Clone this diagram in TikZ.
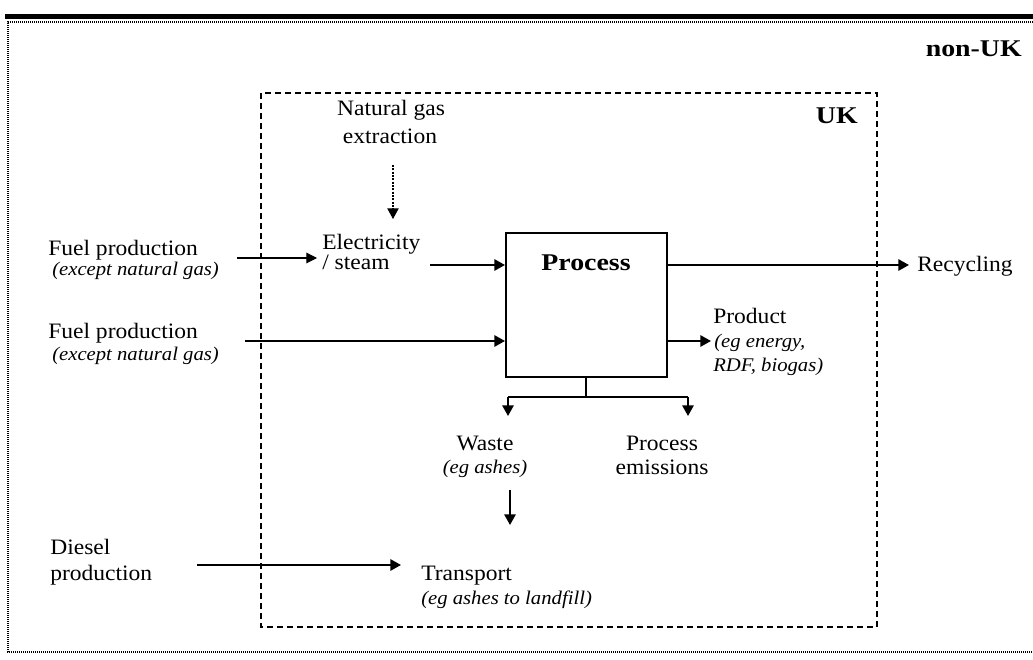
\documentclass[tikz,border=0pt]{standalone}
\usepackage{fontspec}
\setmainfont{Liberation Serif}[FakeStretch=1.07]
\newfontfamily\bldfam{Liberation Serif}[FakeStretch=1.16]
\usetikzlibrary{arrows.meta,calc}
\begin{document}
\begin{tikzpicture}[x=0.75pt,y=-0.75pt,
  txt/.style={font=\fontsize{16.5}{19}\selectfont, inner sep=0pt},
  itx/.style={font=\fontsize{14.5}{17}\selectfont\itshape, inner sep=0pt},
  bld/.style={font=\bldfam\fontsize{18}{20}\selectfont\bfseries, inner sep=0pt},
  ln/.style={line width=1.5pt},
  arr/.style={line width=1.5pt,-{Triangle[length=8pt,width=8.5pt]}},
  tarr/.style={line width=0.8pt,-{Triangle[length=8pt,width=8pt]}},
  darr/.style={line width=0.8pt,dash pattern=on 1.5pt off 1pt,-{Triangle[length=8pt,width=8.5pt]}},
  ukbox/.style={line width=1.5pt,dash pattern=on 4.5pt off 3pt},
  outbox/.style={line width=1.2pt,dash pattern=on 0.75pt off 0.75pt},
  procbox/.style={draw,line width=1.5pt,minimum width=120.75pt,minimum height=108pt,inner sep=0pt}
]
\useasboundingbox (0,0) rectangle (1033,660);
\fill (5,14) rectangle (1033,19);
\draw[outbox] (1033,22) -- (8,22) -- (8,652) -- (1033,652);
\draw[ukbox] (261,93) rectangle (877,627);

\node[bld,anchor=base east] (nonuk) at (1022,57) {non-UK};
\node[bld,anchor=base east] (uk) at (858,124) {UK};

\node[txt,anchor=base] (ng1) at (391,116) {Natural gas};
\node[txt,anchor=base] (ng2) at (390,144) {extraction};

\node[txt,anchor=base west] (el1) at (322,249) {Electricity};
\node[txt,anchor=base west] (el2) at (322,269) {/ steam};

\node[procbox] (proc) at (586.5,305) {};
\node[bld,anchor=base] (ptitle) at (586,270) {Process};

\node[txt,anchor=base west] (f1a) at (48,255) {Fuel production};
\node[itx,anchor=base west] (f1b) at (52,275) {(except natural gas)};
\node[txt,anchor=base west] (f2a) at (48,338) {Fuel production};
\node[itx,anchor=base west] (f2b) at (52,360) {(except natural gas)};

\node[txt,anchor=base west] (rec) at (917,271) {Recycling};
\node[txt,anchor=base west] (pr1) at (713,323) {Product};
\node[itx,anchor=base west] (pr2) at (714,347) {(eg energy,};
\node[itx,anchor=base west] (pr3) at (713,371) {RDF, biogas)};

\node[txt,anchor=base] (w1) at (485,450) {Waste};
\node[itx,anchor=base] (w2) at (485,473) {(eg ashes)};
\node[txt,anchor=base] (pe1) at (662,450) {Process};
\node[txt,anchor=base] (pe2) at (662,474) {emissions};

\node[txt,anchor=base west] (tr1) at (421,580) {Transport};
\node[itx,anchor=base west] (tr2) at (421,604) {(eg ashes to landfill)};
\node[txt,anchor=base west] (d1) at (50,554) {Diesel};
\node[txt,anchor=base west] (d2) at (50,580) {production};

% connectors
\coordinate (ngS) at (393,165);
\coordinate (ngE) at (393,219);
\draw[darr] (ngS) -- (ngE);

\coordinate (f1S) at (237,258);
\coordinate (f1E) at (317,258);
\draw[tarr] (f1S) -- (f1E);

\coordinate (elS) at (430,265);
\draw[arr] (elS) -- (proc.west |- elS);

\coordinate (f2S) at (245,341);
\draw[arr] (f2S) -- (proc.west |- f2S);

\coordinate (recE) at (909,265);
\draw[arr] (proc.east |- recE) -- (recE);

\coordinate (prE) at (711,341);
\draw[arr] (proc.east |- prE) -- (prE);

\coordinate (br) at (586,397);
\coordinate (bl) at (508,397);
\coordinate (brr) at (688,397);
\coordinate (wE) at (508,416);
\coordinate (peE) at (688,416);
\draw[ln] (proc.south -| br) -- (br);
\draw[ln] (bl) -- (brr);
\draw[arr] (bl) -- (wE);
\draw[arr] (brr) -- (peE);

\coordinate (wS) at (510,490);
\coordinate (trE) at (510,525);
\draw[arr] (wS) -- (trE);

\coordinate (dS) at (197,565);
\coordinate (dE) at (401,565);
\draw[arr] (dS) -- (dE);
\end{tikzpicture}
\end{document}
